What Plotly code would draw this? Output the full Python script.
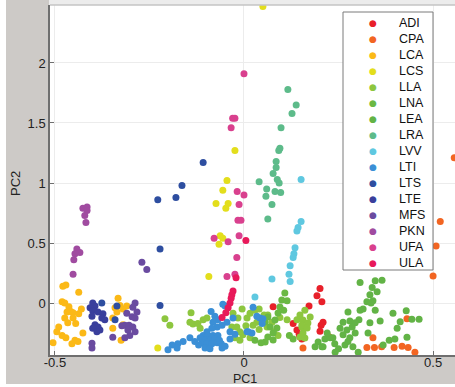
import plotly.graph_objects as go

# ---------------- data (PC1, PC2 per group) ----------------
groups = ["ADI", "CPA", "LCA", "LCS", "LLA", "LNA", "LEA", "LRA",
          "LVV", "LTI", "LTS", "LTE", "MFS", "PKN", "UFA", "ULA"]
colors = ["#e8202a", "#f26522", "#fbb917", "#e3de1c", "#8dc63f", "#6ab843",
          "#62b346", "#5dbb8a", "#5fc8e0", "#3b8fd6", "#2e4ea0", "#3a3f9c",
          "#6a4ba0", "#a04ba0", "#d9408e", "#e8195a"]

ADI_x = [0.201, 0.193, 0.206, 0.172, 0.077, 0.13, 0.209, 0.204, 0.201, 0.14, 0.146, 0.153, 0.148]
ADI_y = [0.12, 0.06, 0.01, -0.025, -0.03, -0.17, -0.16, -0.185, -0.235, -0.225, -0.26, -0.3, -0.28]

CPA_x = [0.556, 0.519, 0.508, 0.5, 0.156, 0.225, 0.325, 0.341, 0.345, 0.364, 0.397, 0.418, 0.434, 0.452, 0.431]
CPA_y = [1.21, 0.68, 0.475, 0.225, -0.375, -0.28, -0.37, -0.29, -0.37, -0.365, -0.37, -0.36, -0.37, -0.41, -0.13]

LCA_x = [-0.479, -0.471, -0.437, -0.481, -0.474, -0.458, -0.468, -0.452, -0.437, -0.474, -0.452, -0.466,
         -0.495, -0.481, -0.471, -0.447, -0.455, -0.426, -0.439, -0.505, -0.463, -0.445, -0.43, -0.49,
         -0.333, -0.328, -0.341, -0.32, -0.336, -0.31, -0.347, -0.32, -0.325, -0.347]
LCA_y = [0.14, 0.15, 0.09, 0.01, 0.0, -0.07, -0.075, -0.08, -0.09, -0.125, -0.125, -0.165,
         -0.24, -0.27, -0.29, -0.31, -0.34, -0.25, -0.32, -0.33, -0.03, -0.17, -0.05, -0.2,
         0.04, -0.02, -0.04, -0.05, -0.075, -0.025, -0.125, -0.18, -0.31, -0.21]

LCS_x = [0.05, -0.024, -0.045, -0.056, -0.074, -0.042, -0.048, -0.063, -0.056, -0.066, -0.228, -0.093]
LCS_y = [2.47, 1.27, 1.02, 0.94, 0.83, 0.83, 0.79, 0.56, 0.54, 0.49, -0.375, 0.22]

LLA_x = [-0.209, -0.196, -0.14, -0.143, -0.135, -0.122, -0.108, -0.098, -0.116, -0.029, -0.016, -0.032,
         -0.019, -0.011, -0.003, 0.008, 0.016, 0.029, 0.034, -0.024, -0.011, 0.016, 0.024, 0.053, 0.063,
         0.074, 0.061, 0.079, 0.09, 0.095, 0.114, 0.14, 0.153, 0.161, 0.148, 0.175, 0.156, 0.169, 0.153,
         0.167, 0.156, 0.148, 0.161, -0.005, 0.005, 0.04, 0.04]
LLA_y = [-0.13, -0.185, -0.08, -0.16, -0.175, -0.17, -0.14, -0.125, -0.21, -0.085, -0.125, -0.2,
         -0.2, -0.24, -0.265, -0.125, -0.085, -0.06, -0.16, -0.29, -0.31, -0.29, -0.185, -0.1, -0.1,
         -0.16, -0.2, -0.24, -0.27, -0.12, -0.14, -0.14, -0.2, -0.06, -0.1, -0.117, -0.142, -0.167, -0.183,
         -0.208, -0.25, -0.283, -0.292, -0.05, -0.19, -0.22, -0.05]

LNA_x = [0.108, 0.1, 0.095, 0.09, 0.082, 0.063, 0.056, 0.069, 0.087, 0.077, 0.063, 0.056, 0.077,
         0.114, 0.105, 0.029, 0.045, 0.12, 0.13]
LNA_y = [0.083, 0.025, -0.033, -0.083, -0.142, -0.117, -0.158, -0.2, -0.208, -0.25, -0.283, -0.325, -0.308,
         0.02, -0.06, -0.31, -0.33, -0.27, -0.3]

LEA_x = [0.307, 0.347, 0.365, 0.339, 0.352, 0.333, 0.341, 0.325, 0.336, 0.315, 0.307, 0.347, 0.275,
         0.394, 0.429, 0.304, 0.28, 0.262, 0.294, 0.333, 0.36, 0.413, 0.444, 0.463, 0.405, 0.254, 0.272,
         0.286, 0.294, 0.328, 0.262, 0.28, 0.235, 0.214, 0.196, 0.188, 0.206, 0.241, 0.267, 0.288, 0.302,
         0.368, 0.384, 0.399, 0.431, 0.228, 0.209, 0.24, 0.25, 0.275, 0.22]
LEA_y = [0.17, 0.185, 0.19, 0.13, 0.095, 0.07, 0.02, 0.01, 0.0, -0.05, -0.06, -0.06, -0.075,
         -0.085, -0.065, -0.14, -0.15, -0.16, -0.165, -0.165, -0.15, -0.155, -0.135, -0.135, -0.21, -0.21, -0.225,
         -0.2, -0.25, -0.25, -0.265, -0.29, -0.29, -0.3, -0.325, -0.365, -0.365, -0.41, -0.35, -0.365, -0.41,
         -0.35, -0.31, -0.3, -0.285, -0.29, -0.365, -0.34, -0.38, -0.32, -0.25]

LRA_x = [0.116, 0.138, 0.127, 0.098, 0.095, 0.092, 0.085, 0.085, 0.077, 0.088, 0.093, 0.04, 0.06,
         0.082, 0.097, 0.058, 0.074, 0.063]
LRA_y = [1.78, 1.65, 1.58, 1.46, 1.29, 1.27, 1.18, 1.13, 1.08, 1.03, 1.0, 1.01, 0.95,
         0.93, 0.92, 0.89, 0.82, 0.70]

LVV_x = [0.151, 0.151, 0.143, 0.14, 0.135, 0.132, 0.13, 0.122, 0.119, 0.122, 0.074, 0.029]
LVV_y = [1.03, 0.68, 0.63, 0.6, 0.46, 0.41, 0.38, 0.31, 0.24, 0.18, 0.2, 0.05]

LTI_x = [-0.087, -0.077, -0.069, -0.082, -0.071, -0.085, -0.098, -0.108, -0.095, -0.082, -0.069, -0.116,
         -0.103, -0.09, -0.077, -0.111, -0.098, -0.085, -0.071, -0.103, -0.09, -0.143, -0.161, -0.175,
         -0.19, -0.201, -0.177, -0.058, -0.045, -0.037, -0.024, -0.05, 0.011, 0.021, 0.034, 0.042, 0.024,
         -0.056, -0.037, -0.058, 0.05, 0.048, -0.029, 0.008, -0.12, -0.13, -0.06, -0.05, -0.065]
LTI_y = [-0.07, -0.11, -0.14, -0.16, -0.2, -0.21, -0.24, -0.27, -0.27, -0.27, -0.27, -0.29,
         -0.31, -0.31, -0.3, -0.33, -0.34, -0.34, -0.33, -0.375, -0.38, -0.29, -0.32, -0.34,
         -0.35, -0.39, -0.375, -0.185, -0.16, -0.24, -0.26, -0.025, -0.24, -0.25, -0.11, -0.125, -0.035,
         -0.01, -0.3, -0.375, -0.13, -0.17, -0.125, -0.24, -0.35, -0.32, -0.34, -0.36, -0.31]

LTS_x = [-0.108, -0.164, -0.18, -0.228, -0.222, -0.222, -0.376, -0.336, -0.341]
LTS_y = [1.17, 0.98, 0.88, 0.86, 0.45, -0.02, 0.0, -0.025, -0.14]

LTE_x = [-0.40, -0.394, -0.407, -0.40, -0.386, -0.373, -0.402, -0.376, -0.368, -0.394, -0.386, -0.40,
         -0.381, -0.389]
LTE_y = [0.0, -0.025, -0.04, -0.065, -0.075, -0.09, -0.11, -0.125, -0.14, -0.18, -0.2, -0.21,
         -0.225, -0.24]

MFS_x = [-0.288, -0.294, -0.283, -0.296, -0.288, -0.315, -0.323, -0.304, -0.294, -0.307, -0.288, -0.302,
         -0.347, -0.315, -0.402, -0.402, -0.31, -0.27, -0.257]
MFS_y = [0.0, -0.035, -0.075, -0.115, -0.125, -0.185, -0.19, -0.185, -0.2, -0.225, -0.24, -0.27,
         -0.285, -0.29, -0.335, -0.375, -0.085, 0.34, 0.28]

PKN_x = [-0.426, -0.415, -0.415, -0.421, -0.418, -0.442, -0.434, -0.447, -0.45, -0.452]
PKN_y = [0.79, 0.80, 0.77, 0.73, 0.67, 0.45, 0.42, 0.41, 0.36, 0.24]

UFA_x = [0.0, -0.03, -0.024, -0.034, -0.018, 0.0, -0.013, -0.016, -0.008, -0.079, -0.042, -0.013,
         -0.019, -0.045, -0.024]
UFA_y = [1.91, 1.54, 1.54, 1.46, 0.93, 0.90, 0.82, 0.69, 0.69, 0.54, 0.51, 0.56,
         0.38, 0.22, 0.24]

ULA_x = [0.005, -0.021, -0.029, -0.032, -0.034, -0.037, -0.042, -0.048, -0.058]
ULA_y = [0.52, 0.21, 0.10, 0.07, 0.04, 0.0, -0.04, -0.08, -0.12]

series_x = [ADI_x, CPA_x, LCA_x, LCS_x, LLA_x, LNA_x, LEA_x, LRA_x,
            LVV_x, LTI_x, LTS_x, LTE_x, MFS_x, PKN_x, UFA_x, ULA_x]
series_y = [ADI_y, CPA_y, LCA_y, LCS_y, LLA_y, LNA_y, LEA_y, LRA_y,
            LVV_y, LTI_y, LTS_y, LTE_y, MFS_y, PKN_y, UFA_y, ULA_y]

x_ticks = [-0.5, 0, 0.5]
y_ticks = [0, 0.5, 1, 1.5, 2]

# ---------------- figure ----------------
FONT = "Liberation Sans, Arial, sans-serif"
W, H = 455, 387
ML, MR, MT, MB = 50, 0, 5, 32
PW, PH = W - ML - MR, H - MT - MB

fig = go.Figure()
for name, c, xs, ys in zip(groups, colors, series_x, series_y):
    fig.add_trace(go.Scatter(x=xs, y=ys, mode="markers", name=name,
                             marker=dict(color=c, size=7, line=dict(width=0)),
                             showlegend=False))

def px_x(p):
    return (p - ML) / PW

def px_y(p):
    return (H - MB - p) / PH

shapes = [
    dict(type="rect", xref="paper", yref="paper", x0=px_x(0), x1=px_x(6), y0=px_y(H), y1=px_y(0),
         fillcolor="white", line=dict(width=0), layer="below"),
    dict(type="rect", xref="paper", yref="paper", x0=px_x(0), x1=px_x(W), y0=px_y(H), y1=px_y(384),
         fillcolor="white", line=dict(width=0), layer="below"),
    dict(type="rect", xref="paper", yref="paper", x0=px_x(ML - 1), x1=px_x(W), y0=px_y(MT), y1=px_y(0),
         fillcolor="#ececec", line=dict(width=0), layer="below"),
    dict(type="line", xref="paper", yref="paper", x0=0, x1=1, y0=1, y1=1,
         line=dict(color="#c4c4c4", width=1.5)),
]

lx0, lx1, ly0, ly1 = 343, 433, 12, 270
shapes.append(dict(type="rect", xref="paper", yref="paper",
                   x0=px_x(lx0), x1=px_x(lx1), y0=px_y(ly1), y1=px_y(ly0),
                   fillcolor="white", line=dict(color="#7a7a7a", width=1), layer="above"))

annotations = []
first, step = 23.5, 15.95
for i, (name, c) in enumerate(zip(groups, colors)):
    yy = first + i * step
    annotations.append(dict(xref="paper", yref="paper", x=px_x(373), y=px_y(yy),
                            text="●", showarrow=False, xanchor="center", yanchor="middle",
                            font=dict(family="DejaVu Sans", size=9, color=c)))
    annotations.append(dict(xref="paper", yref="paper", x=px_x(397), y=px_y(yy),
                            text=name, showarrow=False, xanchor="left", yanchor="middle",
                            font=dict(family=FONT, size=12.5, color="#111111")))

annotations.append(dict(xref="paper", yref="paper", x=px_x(245), y=px_y(387),
                        text="PC1", showarrow=False, xanchor="center", yanchor="bottom",
                        borderpad=0,
                        font=dict(family=FONT, size=12.5, color="#222222")))
annotations.append(dict(xref="paper", yref="paper", x=px_x(15), y=px_y(184),
                        text="PC2", showarrow=False, xanchor="center", yanchor="middle",
                        textangle=-90, font=dict(family=FONT, size=13, color="#222222")))

fig.update_layout(
    width=W, height=H,
    margin=dict(l=ML, r=MR, t=MT, b=MB, pad=0, autoexpand=False),
    paper_bgcolor="#cdcac7", plot_bgcolor="white",
    font=dict(family=FONT, size=13, color="#222222"),
    shapes=shapes, annotations=annotations,
    showlegend=False,
)
fig.update_xaxes(range=[-0.513, 0.558], tickvals=x_ticks, ticktext=["-0.5", "0", "0.5"],
                 automargin=False, ticklabelstandoff=-5,
                 showgrid=True, gridcolor="#ececec", zeroline=False,
                 showline=True, linecolor="#6f6f6f", linewidth=1.5,
                 ticks="inside", ticklen=4, tickcolor="#6f6f6f",
                 tickfont=dict(size=13, color="#222222"))
fig.update_yaxes(range=[-0.433, 2.483], tickvals=y_ticks, ticktext=["0", "0.5", "1", "1.5", "2"],
                 automargin=False,
                 showgrid=True, gridcolor="#ececec", zeroline=False,
                 showline=True, linecolor="#6f6f6f", linewidth=1.5,
                 ticks="inside", ticklen=4, tickcolor="#6f6f6f",
                 tickfont=dict(size=13, color="#222222"))

fig.write_html("out.html", config={"displayModeBar": False},
               post_script="document.body.style.margin='0px';document.body.style.padding='0px';")
